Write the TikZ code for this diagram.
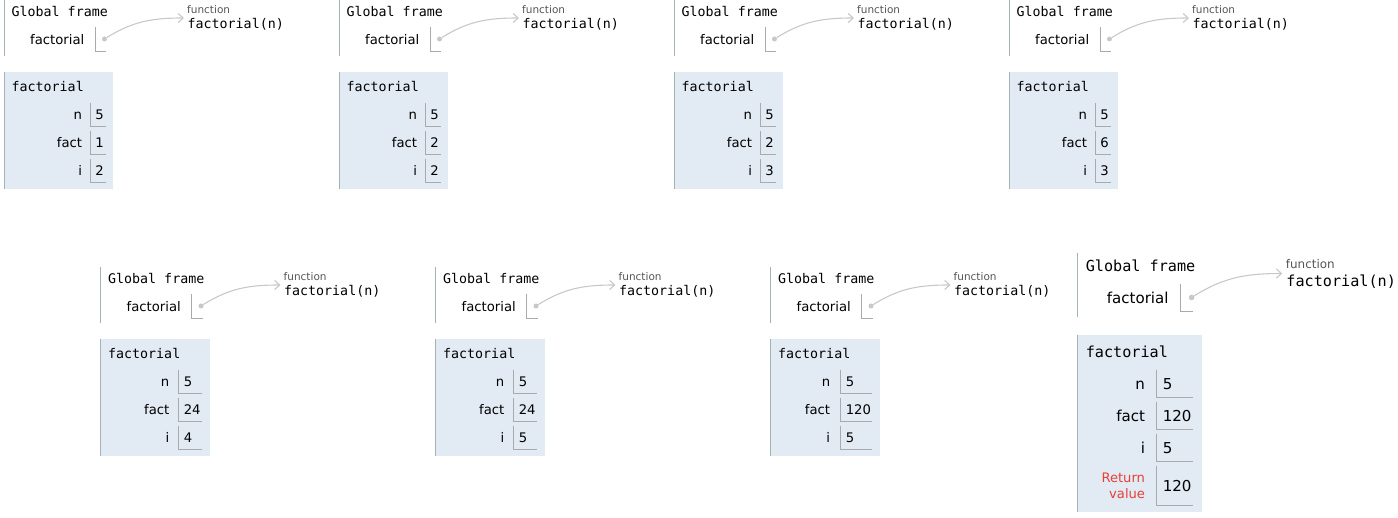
\documentclass[tikz,border=0pt]{standalone}
\usepackage{fontspec}
\setmainfont{DejaVu Sans}
\setmonofont{DejaVu Sans Mono}
\usetikzlibrary{arrows.meta, calc}
\definecolor{framefill}{HTML}{E2EAF4}
\definecolor{frameedge}{HTML}{A6B3B6}
\definecolor{celledge}{HTML}{AAAAAA}
\definecolor{arrowgray}{HTML}{C8C8C8}
\definecolor{typegray}{HTML}{555555}
\definecolor{retred}{HTML}{E93F34}
\newcommand\codefont{\ttfamily\fontsize{13.3}{15}\selectfont}
\newcommand\namefont{\fontsize{13.2}{15}\selectfont}
\newcommand\typefont{\fontsize{10.5}{12}\selectfont}
\newcommand\retfont{\fontsize{11.5}{14}\selectfont}

\begin{document}
\begin{tikzpicture}[
    x=1pt, y=-1pt,
    >={Straight Barb[length=5pt,width=9pt]},
    edgeline/.style={draw=frameedge, line width=1pt},
    cellline/.style={draw=celledge, line width=1pt},
    framebox/.style={fill=framefill, anchor=north west, minimum width=109, inner sep=0},
    heading/.style={font=\codefont, anchor=base west, inner sep=0},
    varname/.style={font=\namefont, anchor=base east, inner sep=0},
    cell/.style={font=\namefont, anchor=east, minimum height=24, inner xsep=5, inner ysep=0, text width=#1pt, align=left},
    dot/.style={circle, fill=arrowgray, inner sep=0, minimum size=5},
    pointer/.style={->, draw=arrowgray, line width=1.1pt},
    typelabel/.style={font=\typefont, text=typegray, anchor=base west, inner sep=0},
    retlabel/.style={font=\retfont, text=retred, align=right, anchor=east, inner sep=0}
  ]
    \useasboundingbox (0,0) rectangle (1398,518);

    % One step of the loop per panel
    \foreach \k/\px/\py/\sc/\fa/\iv/\cw/\fh in {1/4/0/1/1/2/5/117, 2/339/0/1/2/2/5/117,
        3/674/0/1/2/3/5/117, 4/1009/0/1/6/3/5/117, 5/100.5/267/1/24/4/13/117,
        6/435.5/267/1/24/5/13/117, 7/770.5/267/1/120/5/21/117, 8/1077/253/1.14/120/5/21/155} {
      \begin{scope}[shift={(\px,\py)}, scale=\sc, transform shape]
        % Global frame
        \draw[edgeline] (0,0) -- (0,56);
        \node[heading] (global\k) at (7.5,16.5) {Global frame};
        \node[varname] (gname\k) at (80.5,44.5) {factorial};
        \node[cell=0.5] (gval\k) at (102,39) {};
        \draw[cellline] (gval\k.north west) |- (gval\k.south east);
        \node[dot] (gdot\k) at ($(gval\k.east)+(-1.5,0)$) {};

        % Function object
        \node[typelabel] (ftype\k) at (183,14) {function};
        \node[heading] (fobj\k) at (183.5,29) {factorial(n)};
        \coordinate (ftip\k) at ($(fobj\k.base west)+(-3.5,-11)$);
        \draw[pointer] (gdot\k) to[out=32, in=180] (ftip\k);

        % Call frame
        \node[framebox, minimum height=\fh] (frame\k) at (0,72) {};
        \draw[edgeline] (frame\k.north west) -- (frame\k.south west);
        \node[heading] (fname\k) at (7.5,91.5) {factorial};
        \foreach \vname/\val/\by in {n/5/119.5, fact/\fa/147.5, i/\iv/175.5} {
          \node[varname] (var\k-\vname) at ({84-1.15*\cw},\by) {\vname};
          \node[cell=\cw] (val\k-\vname) at (101.5,\by-4.75) {\val};
          \draw[cellline] (val\k-\vname.north west) |- (val\k-\vname.south east);
        }
      \end{scope}
    }

    % Return value of the last step
    \begin{scope}[shift={(1077,253)}, scale=1.14, transform shape]
      \node[cell=21, minimum height=34] (val8-ret) at (101.5,204) {120};
      \draw[cellline] (val8-ret.north west) |- (val8-ret.south east);
      \node[retlabel] (var8-ret) at (59.85,204.5) {Return\\value};
    \end{scope}
  \end{tikzpicture}
\end{document}
